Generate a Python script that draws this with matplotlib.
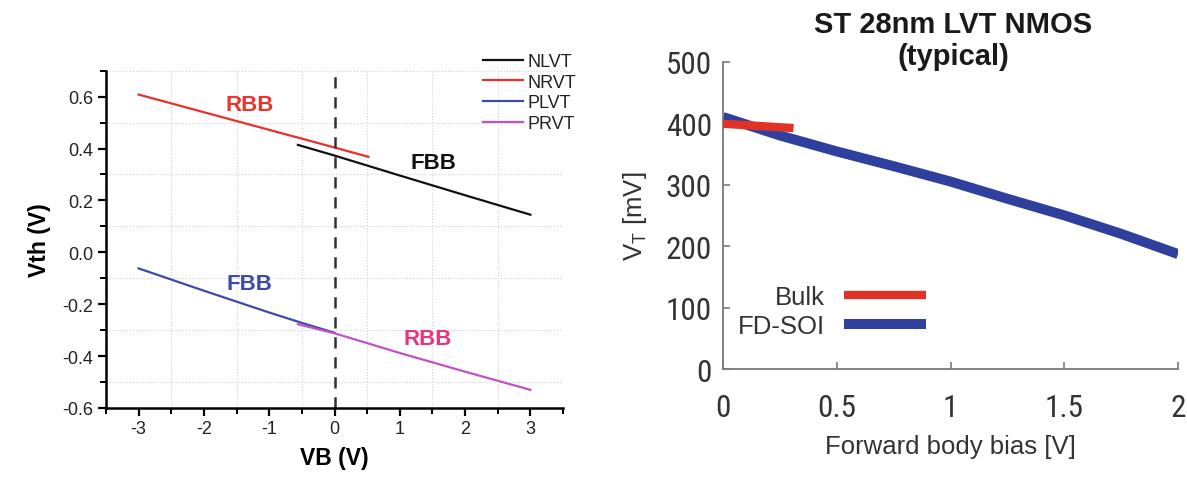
import matplotlib
matplotlib.use("Agg")
import matplotlib.pyplot as plt
from matplotlib.ticker import MultipleLocator
from matplotlib import font_manager

# ---------------- data: left panel ----------------
nrvt_x = [-3.0, -2.0, -1.0, 0.0, 0.52]
nrvt_y = [0.608, 0.540, 0.472, 0.404, 0.368]
nlvt_x = [-0.56, 0.0, 1.0, 2.0, 3.0]
nlvt_y = [0.414, 0.373, 0.296, 0.220, 0.145]
plvt_x = [-3.0, -2.0, -1.0, -0.5, 0.0]
plvt_y = [-0.062, -0.148, -0.232, -0.272, -0.310]
prvt_x = [-0.56, 0.0, 1.0, 2.0, 3.0]
prvt_y = [-0.277, -0.312, -0.388, -0.460, -0.530]
series_names = ["NLVT", "NRVT", "PLVT", "PRVT"]
vb_zero = 0.0

# ---------------- data: right panel ----------------
fd_x = [0.0, 0.25, 0.5, 0.75, 1.0, 1.25, 1.5, 1.75, 2.0]
fd_y = [410, 380, 354, 330, 305, 277, 250, 220, 187]
bulk_x = [0.0, 0.31]
bulk_y = [399, 392]

fonts = font_manager.fontManager.ttflist
names = {f.name for f in fonts}
sans = "Liberation Sans" if "Liberation Sans" in names else "DejaVu Sans"


def is_narrow(f):
    st = f.stretch
    if isinstance(st, str):
        cond = 'condensed' in st
    else:
        cond = st < 500
    return cond or 'Narrow' in f.name or 'Condensed' in f.name


cands = []
for f in fonts:
    if not is_narrow(f):
        continue
    if f.style != 'normal':
        continue
    if 'Mono' in f.name or 'Serif' in f.name:
        continue
    w = f.weight if isinstance(f.weight, int) else {'normal': 400, 'regular': 400}.get(f.weight, 700)
    if w != 400:
        continue
    pri = 0 if 'Liberation' in f.name else (1 if 'Roboto' in f.name else (2 if 'Open' in f.name else 3))
    cands.append((pri, f.fname))
cands.sort()
narrow_path = cands[0][1] if cands else None

plt.rcParams['font.family'] = [sans, 'DejaVu Sans']

W, H = 1187, 481
fig = plt.figure(figsize=(W / 100, H / 100), dpi=100)

# ---------------- left axes ----------------
axL = fig.add_axes([106 / W, 1 - 409 / H, 457 / W, (409 - 71.7) / H])
c_red, c_black, c_blue, c_mag = '#e8312a', '#111111', '#3c4aa8', '#c052c8'
l1, = axL.plot(nlvt_x, nlvt_y, color=c_black, lw=1.6, label=series_names[0])
l2, = axL.plot(nrvt_x, nrvt_y, color=c_red, lw=1.6, label=series_names[1])
l3, = axL.plot(plvt_x, plvt_y, color=c_blue, lw=1.6, label=series_names[2])
l4, = axL.plot(prvt_x, prvt_y, color=c_mag, lw=1.6, label=series_names[3])
axL.axvline(vb_zero, ymin=0, ymax=0.99, color='#333333', lw=1.8, ls=(0, (4.5, 3.5)))

axL.set_xlim(-3.5, 3.5)
axL.set_ylim(-0.6, 0.7)
axL.xaxis.set_major_locator(MultipleLocator(1))
axL.xaxis.set_minor_locator(MultipleLocator(0.5))
axL.yaxis.set_major_locator(MultipleLocator(0.2))
axL.yaxis.set_minor_locator(MultipleLocator(0.1))
axL.yaxis.set_major_formatter(plt.FuncFormatter(lambda v, p: f"{v:.1f}"))
axL.xaxis.set_major_formatter(plt.FuncFormatter(lambda v, p: f"{v:.0f}"))
for s in ['top', 'right']:
    axL.spines[s].set_visible(False)
for s in ['left', 'bottom']:
    axL.spines[s].set_linewidth(1.8)
axL.tick_params(which='major', direction='out', length=6, width=1.6, labelsize=13, pad=3,
                labelcolor='#222222')
axL.tick_params(which='minor', direction='out', length=4, width=1.4)
axL.grid(which='minor', color='#d0d0d0', ls=':', lw=0.8)
axL.grid(which='major', visible=False)
axL.set_xlabel("VB (V)", fontsize=16.5, fontweight='bold', labelpad=6)
axL.set_ylabel("Vth (V)", fontsize=16.5, fontweight='bold', labelpad=8)

axL.text(-1.3, 0.57, "RBB", color='#e8352d', fontsize=16, fontweight='bold', ha='center', va='center')
axL.text(1.52, 0.345, "FBB", color='#111111', fontsize=16, fontweight='bold', ha='center', va='center')
axL.text(-1.3, -0.12, "FBB", color='#3b4ba6', fontsize=16, fontweight='bold', ha='center', va='center')
axL.text(1.42, -0.332, "RBB", color='#e8337f', fontsize=16, fontweight='bold', ha='center', va='center')

axL.legend(handles=[l1, l2, l3, l4], loc='upper left', bbox_to_anchor=(483 / W, 1 - 54 / H),
           bbox_transform=fig.transFigure, frameon=False, fontsize=13, handlelength=2.2,
           handletextpad=0.25, labelspacing=0.2, borderpad=0, borderaxespad=0,
           labelcolor='#222222')

# ---------------- right axes ----------------
axR = fig.add_axes([723 / W, 1 - 370 / H, 455 / W, (370 - 62.7) / H])
c_bulk, c_fd = '#e03325', '#2e3f9e'
hf, = axR.plot(fd_x, fd_y, color=c_fd, lw=7.2, solid_capstyle='butt', label='FD-SOI', zorder=2)
hb, = axR.plot(bulk_x, bulk_y, color=c_bulk, lw=6.0, solid_capstyle='butt', label='Bulk', zorder=3)
axR.set_xlim(0, 2)
axR.set_ylim(0, 500)
axR.xaxis.set_major_locator(MultipleLocator(0.5))
axR.yaxis.set_major_locator(MultipleLocator(100))
axR.xaxis.set_major_formatter(plt.FuncFormatter(lambda v, p: f"{v:g}"))
for s in ['top', 'right']:
    axR.spines[s].set_visible(False)
for s in ['left', 'bottom']:
    axR.spines[s].set_linewidth(1.3)
    axR.spines[s].set_color('#7a7a7a')
axR.tick_params(direction='in', length=5, width=1.2, color='#7a7a7a', labelcolor='#333333', pad=8)
axR.tick_params(axis='x', pad=17)
for lab in axR.get_xticklabels() + axR.get_yticklabels():
    if narrow_path:
        lab.set_fontproperties(font_manager.FontProperties(fname=narrow_path, size=22.5))
    else:
        lab.set_fontsize(19)
axR.set_xlabel("Forward body bias [V]", fontsize=18.5, color='#333333', labelpad=9)
axR.set_ylabel("V$_\\mathregular{T}$ [mV]", fontsize=18.5, color='#333333', labelpad=12)
axR.legend(handles=[hb, hf], loc='center right', bbox_to_anchor=(926 / W, 1 - 312.5 / H),
           bbox_transform=fig.transFigure, frameon=False, fontsize=18.5, markerfirst=False,
           handlelength=3.2, handletextpad=0.75, labelspacing=0.2, borderpad=0, borderaxespad=0,
           labelcolor='#333333')
fig.text(953 / W, 1 - 41 / H, "ST 28nm LVT NMOS\n(typical)", ha='center', va='center',
         fontsize=21, fontweight='bold', linespacing=1.15, color='#1a1a1a')

fig.savefig("out.png", dpi=100)
